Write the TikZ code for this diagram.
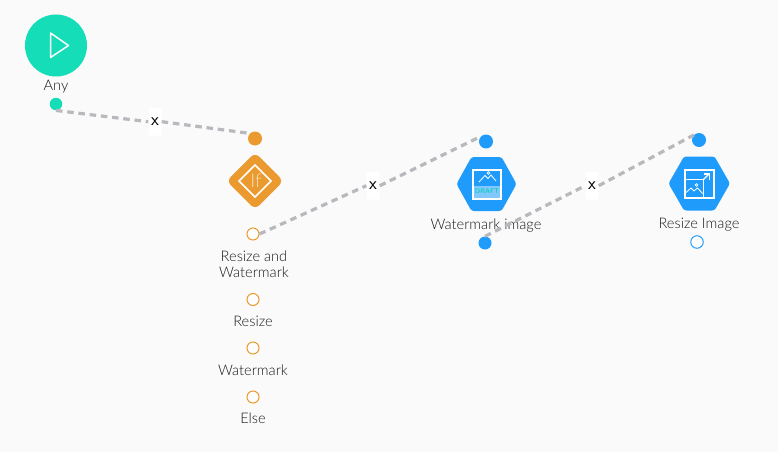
\documentclass[tikz,border=0pt]{standalone}
\usepackage{fontspec}
\setmainfont{Lato}[UprightFont=* Light]
\definecolor{canvas}{HTML}{FAFAFA}
\definecolor{teal}{HTML}{14DDB8}
\definecolor{amber}{HTML}{EA9A2E}
\definecolor{azure}{HTML}{1E9BFB}
\definecolor{wire}{HTML}{B8B8BD}
\tikzset{
  x=1pt,y=-1pt,
  caption/.style={font=\fontsize{14.6}{16.2}\selectfont,text=black!90,align=center,inner sep=0pt},
  port/.style={circle,minimum size=#1,inner sep=0pt},
  wirepath/.style={draw=wire,line width=3.2pt,dash pattern=on 6.5pt off 4.8pt},
  xtag/.style={fill=white,rounded corners=1.5pt,minimum width=13pt,minimum height=28pt,inner sep=0pt,
    font=\fontsize{18}{18}\selectfont\sffamily,text=black},
}
\begin{document}
\begin{tikzpicture}
\useasboundingbox (0,0) rectangle (778,452);
\fill[canvas] (0,0) rectangle (778,452);

% Start node
\node[port=62pt,fill=teal] (start) at (56,45.5) {};
\draw[white,line width=1.5pt,line join=round] (50.5,33) -- (68.5,45.5) -- (50.5,57.5) -- cycle;
\node[caption] (anylabel) at (56,87) {Any};
\node[port=12.5pt,fill=teal] (anyout) at (56,104) {};

% Condition node
\node[port=14pt,fill=amber] (ifin) at (255,138.5) {};
\fill[amber,rounded corners=6pt] (255,152.5) -- (283.5,181) -- (255,209.5) -- (226.5,181) -- cycle;
\draw[white,line width=1.5pt] (255,165) -- (271,181) -- (255,197) -- (239,181) -- cycle;
\node[inner sep=0pt,text=white!70!amber,font=\fontsize{19}{19}\selectfont] (iflabel) at (256,181) {If};
\node[port=12pt,draw=amber,fill=white,line width=1pt] (c1) at (253,234) {};
\node[caption] (c1label) at (254,264.5) {Resize and\\Watermark};
\node[port=12pt,draw=amber,fill=white,line width=1pt] (c2) at (253,299.5) {};
\node[caption] (c2label) at (253,321) {Resize};
\node[port=12pt,draw=amber,fill=white,line width=1pt] (c3) at (253,348) {};
\node[caption] (c3label) at (253,370) {Watermark};
\node[port=12pt,draw=amber,fill=white,line width=1pt] (c4) at (253,397) {};
\node[caption] (c4label) at (253,418) {Else};

% Watermark image node
\node[port=14pt,fill=azure] (wmin) at (486,141.5) {};
\fill[azure,rounded corners=2.5pt] (456.5,184) -- (471.5,157) -- (501.5,157) -- (516.5,184) -- (501.5,211) -- (471.5,211) -- cycle;
\fill[white,opacity=.45] (473,185.5) rectangle (501,199);
\draw[white,line width=1.1pt] (473,170) rectangle (501,199);
\draw[white,line width=.8pt,line join=round] (479,182) -- (485,175.5) -- (488,178.5) -- (491,175) -- (496,181);
\draw[white,line width=.7pt] (488.5,173) circle (1.4pt);
\node[inner sep=0pt,text=teal!75!azure,font=\fontsize{6.8}{7}\selectfont\sffamily\bfseries] (draft) at (487,191.5) {DRAFT};
\node[caption] (wmlabel) at (486,225.5) {Watermark image};
\node[port=13pt,fill=azure] (wmout) at (485,243) {};

% Resize image node
\node[port=14pt,fill=azure] (rsin) at (699,140) {};
\fill[azure,rounded corners=2.5pt] (668.5,183.5) -- (684,156.5) -- (714.5,156.5) -- (730,183.5) -- (714.5,210.5) -- (684,210.5) -- cycle;
\draw[white,line width=1.1pt] (685,170) rectangle (714,198);
\draw[white,line width=.9pt] (685,179.5) -- (703,179.5) -- (703,198);
\draw[white,line width=.8pt,line join=round] (685.5,193) -- (691,188) -- (694,191) -- (697.5,188) -- (702.5,193.5);
\draw[white,line width=.7pt] (696.5,185) circle (1.4pt);
\draw[white,line width=1.1pt] (703,180) -- (709,174);
\draw[white,line width=1.1pt] (704,174) -- (709.5,174) -- (709.5,179.5);
\node[caption] (rslabel) at (699,225) {Resize Image};
\node[port=12.5pt,draw=azure,fill=white,line width=1pt] (rsout) at (697,242) {};

% Connectors with their removal tags
\node[xtag] (x1) at (155,121.7) {x};
\node[xtag] (x2) at (373,185.7) {x};
\node[xtag] (x3) at (592,185.7) {x};
\path[wirepath] (anyout.south) -- (x1.west);
\path[wirepath] (x1.east) -- (ifin.north west);
\path[wirepath] (c1.east) -- (x2.west);
\path[wirepath] (x2.east) -- (wmin.north west);
\path[wirepath] (wmout.north) -- (x3.west);
\path[wirepath] (x3.east) -- (rsin.north west);
\end{tikzpicture}
\end{document}
